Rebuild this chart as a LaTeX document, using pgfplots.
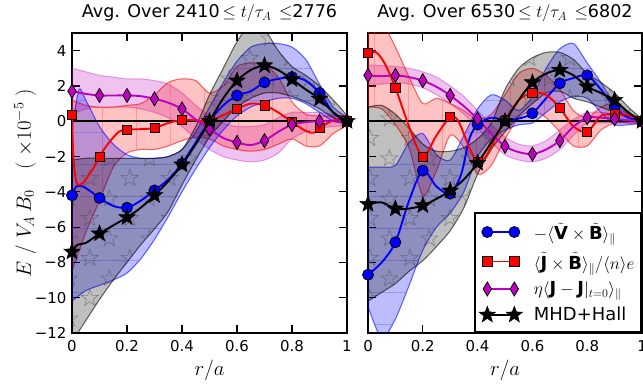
\documentclass[border=0pt]{standalone}
\usepackage{pgfplots}
\pgfplotsset{compat=1.18}
\usepackage{fontspec}
\setmainfont{DejaVu Sans}
\usetikzlibrary{patterns.meta}
\definecolor{mpurple}{rgb}{0.75,0,0.75}

\tikzdeclarepattern{
  name=ostars, type=colored,
  bounding box={(0bp,0bp) and (40bp,40bp)},
  tile size={(40bp,40bp)},
  code={
    \draw[black!75, line width=0.6bp] (10bp,19bp) -- (7.88bp,12.91bp) -- (1.44bp,12.78bp) -- (6.58bp,8.89bp) -- (4.71bp,2.72bp) -- (10bp,6.4bp) -- (15.29bp,2.72bp) -- (13.42bp,8.89bp) -- (18.56bp,12.78bp) -- (12.12bp,12.91bp) -- cycle;
    \draw[black!75, line width=0.6bp] (30bp,39bp) -- (27.88bp,32.91bp) -- (21.44bp,32.78bp) -- (26.58bp,28.89bp) -- (24.71bp,22.72bp) -- (30bp,26.4bp) -- (35.29bp,22.72bp) -- (33.42bp,28.89bp) -- (38.56bp,32.78bp) -- (32.12bp,32.91bp) -- cycle;
  }
}

\pgfdeclareplotmark{fstar}{%
  \pgfpathmoveto{\pgfpointpolar{90}{\pgfplotmarksize}}%
  \pgfpathlineto{\pgfpointpolar{126}{0.42\pgfplotmarksize}}%
  \pgfpathlineto{\pgfpointpolar{162}{\pgfplotmarksize}}%
  \pgfpathlineto{\pgfpointpolar{198}{0.42\pgfplotmarksize}}%
  \pgfpathlineto{\pgfpointpolar{234}{\pgfplotmarksize}}%
  \pgfpathlineto{\pgfpointpolar{270}{0.42\pgfplotmarksize}}%
  \pgfpathlineto{\pgfpointpolar{306}{\pgfplotmarksize}}%
  \pgfpathlineto{\pgfpointpolar{342}{0.42\pgfplotmarksize}}%
  \pgfpathlineto{\pgfpointpolar{18}{\pgfplotmarksize}}%
  \pgfpathlineto{\pgfpointpolar{54}{0.42\pgfplotmarksize}}%
  \pgfpathclose
  \pgfusepathqfillstroke}

\pgfplotsset{
  myax/.style={
    scale only axis, width=275bp, height=300bp,
    xmin=0, xmax=1, ymin=-12, ymax=5,
    xtick={0,0.2,0.4,0.6,0.8,1},
    xticklabels={0,0.2,0.4,0.6,0.8,1},
    ytick={-12,-10,-8,-6,-4,-2,0,2,4},
    axis line style={line width=2.4bp},
    tick align=inside, major tick length=8bp,
    every tick/.style={black, line width=1.2bp},
    tick label style={font=\fontsize{15}{17}\selectfont},
    xticklabel style={yshift=-4bp},
    yticklabel style={xshift=-2bp},
    every axis title/.style={at={(axis description cs:0.5,1.05)}, anchor=base, font=\fontsize{17.6}{20}\selectfont},
    xlabel style={at={(axis description cs:0.5,-0.14)}, anchor=base, font=\fontsize{20}{24}\selectfont},
    xlabel={$r/a$},
  },
  band/.style={smooth, tension=0.45, fill=#1, fill opacity=0.24, draw=#1, draw opacity=0.35, line width=1bp, forget plot},
  lnb/.style={smooth, tension=0.5, blue, line width=1.9bp, no marks, forget plot},
  lnr/.style={smooth, tension=0.5, red, line width=1.9bp, no marks, forget plot},
  lnp/.style={smooth, tension=0.5, mpurple, line width=1.9bp, no marks, forget plot},
  lnk/.style={smooth, tension=0.5, black, line width=1.9bp, no marks, forget plot},
  mkb/.style={only marks, mark=*, mark size=5.5bp, mark options={fill=blue, draw=black, line width=0.8bp}, forget plot},
  mkr/.style={only marks, mark=square*, mark size=4.6bp, mark options={fill=red, draw=black, line width=0.8bp}, forget plot},
  mkp/.style={only marks, mark=diamond*, mark size=7bp, mark options={fill=mpurple, draw=black, line width=0.8bp, xscale=0.8}, forget plot},
  mkk/.style={only marks, mark=fstar, mark size=8.6bp, mark options={fill=black, draw=black, line width=0.5bp}, forget plot},
}

\begin{document}
\begin{tikzpicture}
% ================= LEFT PANEL =================
\begin{axis}[myax, at={(72bp,55bp)}, anchor=south west,
  yticklabels={−12,−10,−8,−6,−4,−2,0,2,4},
  title={Avg. Over 2410\,$\leq t/\tau_A\,\leq$2776},
  ylabel={$E\ /\ V_A\,B_0\quad(\ \times 10^{-5}\ )$},
  ylabel style={at={(axis description cs:-0.171,0.5)}, anchor=center, rotate=0, font=\fontsize{20}{24}\selectfont},
]
% purple band
\addplot[band=mpurple] coordinates {
(0,3.0)(0.05,2.8)(0.1,2.6)(0.15,2.5)(0.2,2.4)(0.25,2.4)(0.3,2.3)(0.35,2.1)(0.4,1.6)(0.45,0.9)(0.5,0.3)(0.55,-0.1)(0.6,-0.3)(0.65,-0.3)(0.7,-0.2)(0.75,0.2)(0.8,0.5)(0.85,0.5)(0.9,0.5)(0.95,0.4)(1,0.2)
(1,-0.2)(0.95,-0.3)(0.9,-0.4)(0.85,-0.6)(0.8,-1.0)(0.75,-1.8)(0.7,-2.2)(0.65,-2.3)(0.6,-2.2)(0.55,-2.0)(0.5,-1.6)(0.45,-1.0)(0.4,-0.3)(0.35,0.2)(0.3,0.5)(0.25,0.7)(0.2,0.8)(0.15,0.8)(0.1,0.8)(0.05,0.7)(0,0.4)
} -- cycle;
% red band
\addplot[band=red, postaction={pattern={Lines[distance=34bp, angle=90, line width=0.7bp]}, pattern color=red!70, fill opacity=0.35}] coordinates {
(0,1.2)(0.05,0.9)(0.1,0.8)(0.15,0.8)(0.2,0.9)(0.25,1.0)(0.3,1.5)(0.35,2.2)(0.4,2.4)(0.45,2.3)(0.5,1.6)(0.55,2.0)(0.6,3.1)(0.65,3.3)(0.7,3.2)(0.75,2.5)(0.8,1.1)(0.85,0.4)(0.9,0.3)(0.95,0.3)(1,0.3)
(1,-0.2)(0.95,-0.7)(0.9,-1.4)(0.85,-1.4)(0.8,-1.0)(0.75,-1.3)(0.7,-1.6)(0.65,-1.7)(0.6,-1.6)(0.55,-1.4)(0.5,-1.0)(0.45,-0.9)(0.4,-1.1)(0.35,-1.4)(0.3,-1.6)(0.25,-1.6)(0.2,-1.8)(0.15,-2.6)(0.1,-4.5)(0.05,-6.3)(0,-8.5)
} -- cycle;
% blue band
\addplot[band=blue, fill opacity=0.26, postaction={pattern={Lines[distance=32bp, angle=0, line width=0.7bp]}, pattern color=blue!70, fill opacity=0.35}] coordinates {
(0,-0.5)(0.025,1.8)(0.05,1.2)(0.1,-0.3)(0.15,-1.3)(0.2,-1.9)(0.25,-2.1)(0.3,-2.1)(0.35,-2.0)(0.4,-1.6)(0.45,-0.6)(0.5,0.8)(0.55,2.2)(0.6,3.4)(0.65,4.2)(0.7,4.4)(0.75,4.4)(0.8,4.2)(0.85,3.5)(0.9,2.1)(0.95,0.8)(1,0.2)
(1,-0.1)(0.95,0.0)(0.9,0.5)(0.85,1.0)(0.8,1.3)(0.75,1.3)(0.7,1.1)(0.65,0.8)(0.6,0.3)(0.55,-0.5)(0.5,-1.5)(0.45,-2.7)(0.4,-4.0)(0.35,-5.4)(0.3,-6.7)(0.25,-7.8)(0.2,-8.6)(0.15,-9.0)(0.1,-9.3)(0.05,-9.6)(0,-10.2)
} -- cycle;
% gray band
\addplot[band=black, fill opacity=0.25, postaction={pattern=ostars, fill opacity=0.5}] coordinates {
(0,-2.2)(0.05,-2.1)(0.1,-2.1)(0.15,-2.1)(0.2,-2.1)(0.25,-2.1)(0.3,-2.1)(0.35,-2.0)(0.4,-1.6)(0.45,-0.3)(0.5,1.5)(0.55,3.0)(0.6,4.5)(0.65,5.5)(0.7,5.2)(0.75,4.0)(0.8,3.1)(0.85,2.6)(0.9,2.0)(0.95,1.2)(1,0.3)
(1,-0.1)(0.95,0.2)(0.9,0.7)(0.85,1.1)(0.8,1.4)(0.75,1.6)(0.7,1.6)(0.65,1.3)(0.6,0.8)(0.55,0.0)(0.5,-0.9)(0.45,-2.2)(0.4,-3.6)(0.35,-5.1)(0.3,-6.1)(0.25,-7.0)(0.2,-8.0)(0.15,-9.0)(0.1,-10.1)(0.05,-11.3)(0,-12.5)
} -- cycle;
% zero line
\addplot[black, line width=1.8bp, forget plot] coordinates {(0,0) (1,0)};
% blue
\addplot[lnb] coordinates {(0,-4.2)(0.015,-3.7)(0.04,-3.7)(0.07,-4.0)(0.1,-4.35)(0.15,-4.8)(0.2,-4.9)(0.25,-4.5)(0.3,-3.92)(0.35,-3.3)(0.4,-2.4)(0.45,-1.2)(0.5,0)(0.55,0.9)(0.6,1.46)(0.65,1.7)(0.7,2.2)(0.75,2.4)(0.8,2.5)(0.85,2.3)(0.9,1.6)(0.95,0.5)(1,0)};
\addplot[mkb] coordinates {(0,-4.2)(0.1,-4.35)(0.2,-4.9)(0.3,-3.92)(0.4,-2.4)(0.5,0)(0.6,1.46)(0.7,2.2)(0.8,2.5)(0.9,1.6)(1,0)};
% red
\addplot[lnr] coordinates {(0,0.38)(0.005,-2)(0.015,-3.4)(0.03,-3.6)(0.05,-3.3)(0.08,-2.6)(0.1,-2.0)(0.13,-1.3)(0.17,-0.6)(0.2,-0.47)(0.25,-0.45)(0.3,-0.38)(0.35,-0.1)(0.4,0.08)(0.45,0.05)(0.5,0)(0.55,0.35)(0.6,0.7)(0.65,1.0)(0.7,0.9)(0.75,0.5)(0.8,-0.05)(0.85,-0.55)(0.88,-0.65)(0.9,-0.4)(0.95,0.05)(1,0)};
\addplot[mkr] coordinates {(0,0.38)(0.1,-2.0)(0.2,-0.47)(0.3,-0.38)(0.4,0.08)(0.5,0)(0.6,0.7)(0.7,0.9)(0.8,-0.05)(0.9,-0.4)(1,0)};
% purple
\addplot[lnp] coordinates {(0,1.7)(0.05,1.55)(0.1,1.46)(0.15,1.46)(0.2,1.46)(0.25,1.42)(0.3,1.27)(0.35,1.05)(0.4,0.7)(0.45,0.1)(0.5,-0.44)(0.55,-0.95)(0.6,-1.2)(0.65,-1.35)(0.7,-1.1)(0.75,-0.6)(0.8,-0.19)(0.85,-0.05)(0.9,0)(0.95,0)(1,0)};
\addplot[mkp] coordinates {(0,1.7)(0.1,1.46)(0.2,1.46)(0.3,1.27)(0.4,0.7)(0.5,-0.44)(0.6,-1.2)(0.7,-1.1)(0.8,-0.19)(0.9,0)(1,0)};
% black
\addplot[lnk] coordinates {(0,-7.4)(0.02,-7.0)(0.05,-6.9)(0.1,-6.37)(0.15,-5.9)(0.2,-5.45)(0.25,-4.9)(0.3,-4.2)(0.35,-3.4)(0.4,-2.46)(0.45,-1.3)(0.5,0)(0.55,1.3)(0.6,2.3)(0.65,2.9)(0.7,3.16)(0.75,2.9)(0.8,2.37)(0.85,1.8)(0.9,1.27)(0.95,0.5)(1,0)};
\addplot[mkk] coordinates {(0,-7.4)(0.1,-6.37)(0.2,-5.45)(0.3,-4.2)(0.4,-2.46)(0.5,0)(0.6,2.3)(0.7,3.16)(0.8,2.37)(0.9,1.27)(1,0)};
\end{axis}

% ================= RIGHT PANEL =================
\begin{axis}[myax, at={(368bp,55bp)}, anchor=south west, width=274bp,
  yticklabels={},
  title={Avg. Over 6530\,$\leq t/\tau_A\,\leq$6802},
  legend image code/.code={\draw[mark repeat=1, mark phase=1, #1] plot coordinates {(0bp,0bp) (27bp,0bp)};},
  legend cell align=left,
  legend style={at={(axis description cs:1,0)}, anchor=south east, draw=black, line width=2.2bp, fill=white,
    font=\fontsize{18}{21}\selectfont, inner xsep=4bp, inner ysep=7bp, row sep=6bp,
    nodes={inner sep=2.5bp},
    /tikz/every odd column/.append style={column sep=9bp}},
]
\addlegendimage{blue, line width=1.9bp, mark=*, mark size=5.5bp, mark options={fill=blue, draw=black, line width=0.8bp}}
\addlegendentry{$-\langle\tilde{\mathbf{V}}\times\tilde{\mathbf{B}}\rangle_{\parallel}$}
\addlegendimage{red, line width=1.9bp, mark=square*, mark size=4.6bp, mark options={fill=red, draw=black, line width=0.8bp}}
\addlegendentry{$\langle\tilde{\mathbf{J}}\times\tilde{\mathbf{B}}\rangle_{\parallel}/\langle n\rangle e$}
\addlegendimage{mpurple, line width=1.9bp, mark=diamond*, mark size=7bp, mark options={fill=mpurple, draw=black, line width=0.8bp, xscale=0.8}}
\addlegendentry{$\eta\langle\mathbf{J}-\mathbf{J}|_{t=0}\rangle_{\parallel}$}
\addlegendimage{black, line width=1.9bp, mark=fstar, mark size=8.6bp, mark options={fill=black, draw=black, line width=0.5bp}}
\addlegendentry{MHD+Hall}
% purple band
\addplot[band=mpurple] coordinates {
(0,3.2)(0.05,3.15)(0.1,3.1)(0.15,3.0)(0.2,2.8)(0.25,2.5)(0.3,2.0)(0.35,1.4)(0.4,0.6)(0.45,-0.2)(0.5,-0.9)(0.55,-1.3)(0.6,-1.4)(0.65,-1.1)(0.7,-0.5)(0.75,0.1)(0.8,0.5)(0.85,0.5)(0.9,0.4)(0.95,0.3)(1,0.1)
(1,-0.1)(0.95,-0.1)(0.9,-0.1)(0.85,-0.1)(0.8,-0.1)(0.75,-0.8)(0.7,-1.6)(0.65,-2.1)(0.6,-2.3)(0.55,-2.2)(0.5,-1.9)(0.45,-1.2)(0.4,-0.4)(0.35,0.4)(0.3,1.0)(0.25,1.5)(0.2,1.9)(0.15,2.1)(0.1,2.2)(0.05,2.1)(0,2.1)
} -- cycle;
% red band
\addplot[band=red, postaction={pattern={Lines[distance=34bp, angle=90, line width=0.7bp]}, pattern color=red!70, fill opacity=0.35}] coordinates {
(0,5.6)(0.05,5.6)(0.1,4.2)(0.15,2.5)(0.2,1.0)(0.25,1.3)(0.3,1.0)(0.35,0.6)(0.4,0.1)(0.45,0.4)(0.5,1.5)(0.55,2.7)(0.6,3.0)(0.65,2.6)(0.7,1.8)(0.75,0.6)(0.8,0.2)(0.85,0.8)(0.9,1.0)(0.95,0.5)(1,0.1)
(1,-0.1)(0.95,-0.1)(0.9,-0.1)(0.85,-0.5)(0.8,-1.4)(0.75,-1.4)(0.7,-0.6)(0.65,0.2)(0.6,0.6)(0.55,0.2)(0.5,-1.0)(0.45,-2.5)(0.4,-3.0)(0.35,-1.5)(0.3,-0.8)(0.25,-2.8)(0.2,-4.2)(0.15,-1.5)(0.1,-0.2)(0.05,0.7)(0,0.8)
} -- cycle;
% blue band
\addplot[band=blue, fill opacity=0.26, postaction={pattern={Lines[distance=32bp, angle=0, line width=0.7bp]}, pattern color=blue!70, fill opacity=0.35}] coordinates {
(0,-2.6)(0.05,-2.6)(0.1,-2.5)(0.15,-1.2)(0.2,-0.7)(0.25,-1.9)(0.3,-2.2)(0.35,-0.8)(0.4,0.7)(0.45,1.5)(0.5,1.2)(0.55,0.6)(0.6,1.4)(0.65,3.0)(0.7,4.1)(0.75,4.4)(0.8,3.3)(0.85,2.2)(0.9,1.0)(0.95,0.4)(1,0.1)
(1,-0.1)(0.95,-0.2)(0.9,-0.2)(0.85,0.5)(0.8,1.3)(0.75,1.4)(0.7,1.1)(0.65,0.5)(0.6,-0.1)(0.55,-0.2)(0.5,-0.5)(0.45,-1.0)(0.4,-2.0)(0.35,-4.0)(0.3,-5.2)(0.25,-6.0)(0.2,-7.3)(0.15,-9.3)(0.1,-11.2)(0.05,-12.3)(0,-10.5)
} -- cycle;
% gray band
\addplot[band=black, fill opacity=0.25, postaction={pattern=ostars, fill opacity=0.5}] coordinates {
(0,0.8)(0.05,0.9)(0.1,0.4)(0.15,-0.4)(0.2,-1.3)(0.25,-1.7)(0.3,-1.7)(0.35,-1.5)(0.4,-1.0)(0.45,-0.1)(0.5,1.8)(0.55,3.0)(0.6,3.6)(0.65,3.9)(0.7,3.9)(0.75,3.5)(0.8,2.7)(0.85,2.2)(0.9,1.6)(0.95,0.8)(1,0.1)
(1,-0.1)(0.95,0.2)(0.9,0.5)(0.85,0.8)(0.8,1.1)(0.75,1.3)(0.7,1.7)(0.65,1.6)(0.6,1.0)(0.55,0.3)(0.5,-0.6)(0.45,-1.6)(0.4,-3.0)(0.35,-4.9)(0.3,-6.2)(0.25,-7.1)(0.2,-7.9)(0.15,-8.5)(0.1,-9.2)(0.05,-9.7)(0,-10.2)
} -- cycle;
% zero line
\addplot[black, line width=1.8bp, forget plot] coordinates {(0,0) (1,0)};
% blue
\addplot[lnb] coordinates {(0,-8.7)(0.05,-8.0)(0.1,-6.86)(0.15,-4.5)(0.2,-2.8)(0.25,-3.7)(0.3,-4.1)(0.34,-3.0)(0.37,-1.0)(0.4,-0.19)(0.45,0.2)(0.5,0.05)(0.55,0.15)(0.6,0.45)(0.65,1.3)(0.7,2.15)(0.75,2.45)(0.8,2.6)(0.85,1.8)(0.9,0.8)(0.95,0.2)(1,0)};
\addplot[mkb] coordinates {(0,-8.7)(0.1,-6.86)(0.2,-2.8)(0.3,-4.1)(0.4,-0.19)(0.5,0.05)(0.6,0.45)(0.7,2.15)(0.8,2.6)(0.9,0.8)(1,0)};
% red
\addplot[lnr] coordinates {(0,3.88)(0.03,3.9)(0.06,3.3)(0.1,1.9)(0.15,-0.3)(0.2,-2.0)(0.25,-0.8)(0.3,0.23)(0.33,0.0)(0.37,-1.5)(0.4,-2.3)(0.43,-2.0)(0.47,-0.8)(0.5,0)(0.55,1.2)(0.6,1.6)(0.65,1.5)(0.7,0.76)(0.75,-0.3)(0.8,-0.6)(0.85,0.3)(0.9,0.4)(0.95,0.35)(1,0)};
\addplot[mkr] coordinates {(0,3.88)(0.1,1.9)(0.2,-2.0)(0.3,0.23)(0.4,-2.3)(0.5,0)(0.6,1.6)(0.7,0.76)(0.8,-0.6)(0.9,0.4)(1,0)};
% purple
\addplot[lnp] coordinates {(0,2.6)(0.05,2.55)(0.1,2.6)(0.15,2.5)(0.2,2.3)(0.25,1.95)(0.3,1.46)(0.35,0.85)(0.4,0.13)(0.45,-0.7)(0.5,-1.42)(0.55,-1.75)(0.6,-1.86)(0.65,-1.6)(0.7,-1.1)(0.75,-0.3)(0.8,0.2)(0.85,0.2)(0.9,0.13)(0.95,0.05)(1,0)};
\addplot[mkp] coordinates {(0,2.6)(0.1,2.6)(0.2,2.3)(0.3,1.46)(0.4,0.13)(0.5,-1.42)(0.6,-1.86)(0.7,-1.1)(0.8,0.2)(0.9,0.13)(1,0)};
% black
\addplot[lnk] coordinates {(0,-4.7)(0.05,-4.6)(0.1,-4.96)(0.15,-4.95)(0.2,-4.77)(0.25,-4.4)(0.3,-3.94)(0.35,-3.3)(0.4,-2.37)(0.45,-1.2)(0.5,0)(0.55,1.2)(0.6,2.2)(0.65,2.7)(0.7,2.9)(0.75,2.6)(0.8,1.96)(0.85,1.6)(0.9,1.2)(0.95,0.5)(1,0)};
\addplot[mkk] coordinates {(0,-4.7)(0.1,-4.96)(0.2,-4.77)(0.3,-3.94)(0.4,-2.37)(0.5,0)(0.6,2.2)(0.7,2.9)(0.8,1.96)(0.9,1.2)(1,0)};
\end{axis}
\pgfresetboundingbox
\path[use as bounding box] (0bp,0bp) rectangle (643bp,388bp);
\end{tikzpicture}
\end{document}
